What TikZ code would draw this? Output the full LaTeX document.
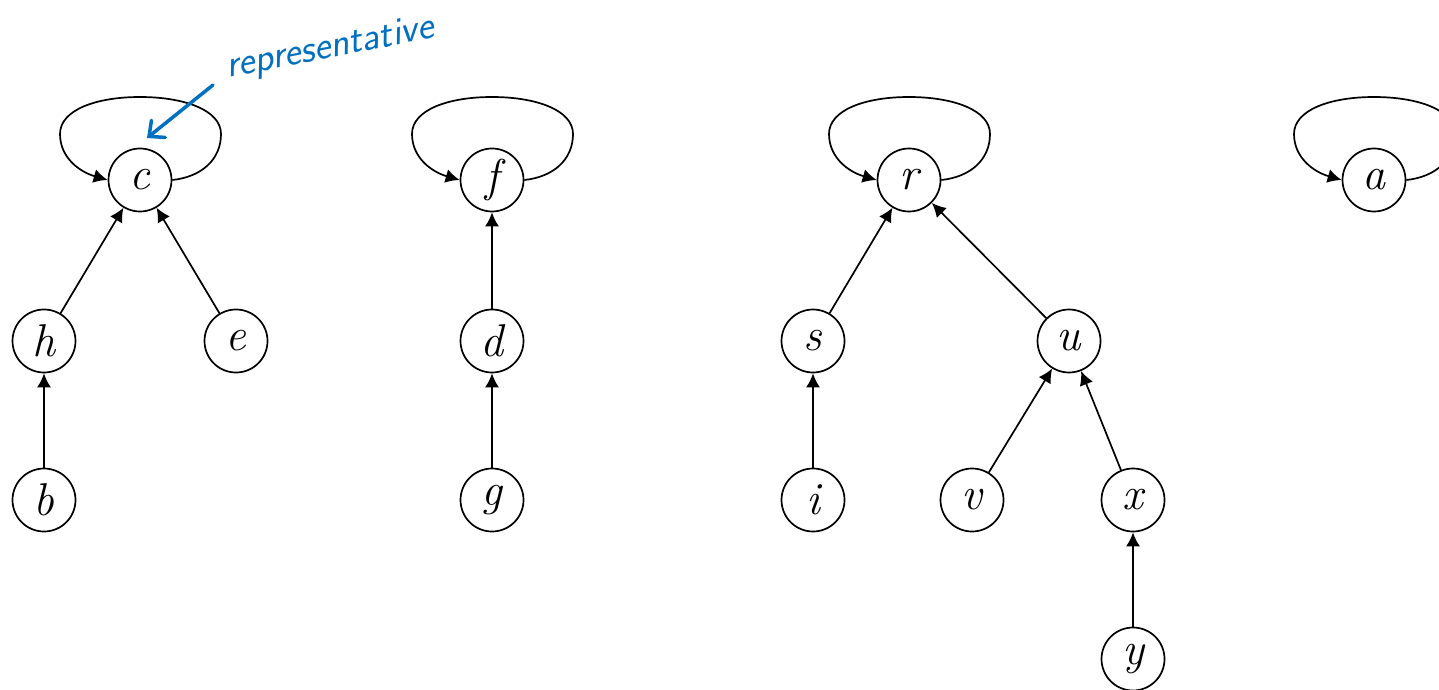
\documentclass[tikz,border=0pt]{standalone}
\usepackage{fontspec}
\usetikzlibrary{arrows.meta,calc}
\definecolor{handblue}{RGB}{0,112,192}
\newcommand\drawselfloop[1]{%
  \draw[edge] (#1.east) .. controls ($(#1)+(61,3)$) and ($(#1)+(81,20)$) .. ($(#1)+(81,46)$)
    .. controls ($(#1)+(81,70)$) and ($(#1)+(44,83)$) .. ($(#1)+(0,83)$)
    .. controls ($(#1)+(-44,83)$) and ($(#1)+(-80,70)$) .. ($(#1)+(-80,46)$)
    .. controls ($(#1)+(-80,22)$) and ($(#1)+(-60,8)$) .. (#1.west);}
\begin{document}
\begin{tikzpicture}[x=1pt,y=1pt,
  vtx/.style={circle,draw,line width=1.7pt,minimum size=63pt,inner sep=0pt,
    font=\fontsize{46}{50}\selectfont\itshape},
  edge/.style={line width=1.7pt,-{Latex[length=14pt,width=14pt]}},
  handarrow/.style={handblue,line width=3.5pt,line cap=round,
    -{Straight Barb[length=12pt,width=22pt,line cap=round]}},
  handtext/.style={text=handblue,font=\fontsize{39}{42}\selectfont\sffamily\slshape,
    inner sep=0pt,rotate=11}]
\useasboundingbox (0,0) rectangle (1439,689);
% nodes
\node[vtx] (c) at (140,509) {c};
\node[vtx] (f) at (492,509) {f};
\node[vtx] (r) at (909,509) {r};
\node[vtx] (a) at (1374,509) {a};
\node[vtx] (h) at (44,348) {h};
\node[vtx] (e) at (236,348) {e};
\node[vtx] (d) at (492,348) {d};
\node[vtx] (s) at (813,348) {s};
\node[vtx] (u) at (1069,348) {u};
\node[vtx] (b) at (44,189) {b};
\node[vtx] (g) at (492,189) {g};
\node[vtx] (i) at (813,189) {i};
\node[vtx] (v) at (972,189) {v};
\node[vtx] (x) at (1133,189) {x};
\node[vtx] (y) at (1133,30) {y};
% edges
\draw[edge] (h) -- (c);
\draw[edge] (e) -- (c);
\draw[edge] (b) -- (h);
\draw[edge] (d) -- (f);
\draw[edge] (g) -- (d);
\draw[edge] (s) -- (r);
\draw[edge] (u) -- (r);
\draw[edge] (i) -- (s);
\draw[edge] (v) -- (u);
\draw[edge] (x) -- (u);
\draw[edge] (y) -- (x);
% self loops
\drawselfloop{c}
\drawselfloop{f}
\drawselfloop{r}
\drawselfloop{a}
% annotation
\node[handtext] (rep) at (330,640) {representative};
\coordinate (repstart) at (213,604);
\coordinate (reptip) at (147,551);
\draw[handarrow] (repstart) -- (reptip);
\end{tikzpicture}
\end{document}
